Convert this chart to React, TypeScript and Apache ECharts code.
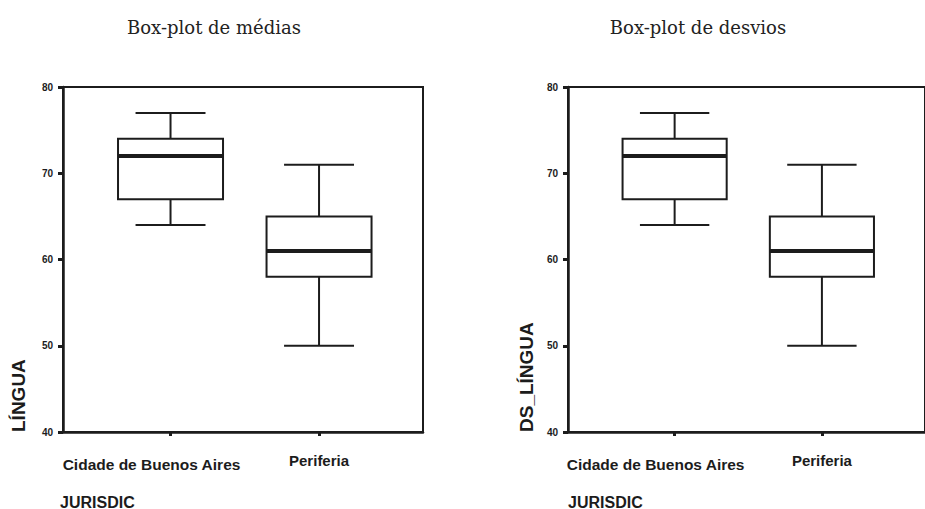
import React, { useEffect, useRef } from "react";
import * as echarts from "echarts";

const categories = ["Cidade de Buenos Aires", "Periferia"];
// [min, Q1, median, Q3, max]
const mediasBox = [
  [64, 67, 72, 74, 77],
  [50, 58, 61, 65, 71],
];
const desviosBox = [
  [64, 67, 72, 74, 77],
  [50, 58, 61, 65, 71],
];
const titles = ["Box-plot de médias", "Box-plot de desvios"];
const yNames = ["LÍNGUA", "DS_LÍNGUA"];
const xName = "JURISDIC";

const INK = "#1c1c1c";
const SANS = "'Liberation Sans', Arial, sans-serif";

function renderBox(params: any, api: any) {
  const x = api.value(0);
  const mn = api.value(1);
  const q1 = api.value(2);
  const md = api.value(3);
  const q3 = api.value(4);
  const mx = api.value(5);
  const boxW = api.size([0.707, 0])[0];
  const capW = api.size([0.471, 0])[0];
  const pMin = api.coord([x, mn]);
  const pQ1 = api.coord([x, q1]);
  const pMd = api.coord([x, md]);
  const pQ3 = api.coord([x, q3]);
  const pMax = api.coord([x, mx]);
  const cx = pMd[0];
  const lineStyle = { stroke: INK, lineWidth: 2, fill: null };
  return {
    type: "group",
    children: [
      { type: "line", shape: { x1: cx, y1: pMax[1], x2: cx, y2: pQ3[1] }, style: lineStyle },
      { type: "line", shape: { x1: cx, y1: pQ1[1], x2: cx, y2: pMin[1] }, style: lineStyle },
      { type: "line", shape: { x1: cx - capW / 2, y1: pMax[1], x2: cx + capW / 2, y2: pMax[1] }, style: lineStyle },
      { type: "line", shape: { x1: cx - capW / 2, y1: pMin[1], x2: cx + capW / 2, y2: pMin[1] }, style: lineStyle },
      {
        type: "rect",
        shape: { x: cx - boxW / 2, y: pQ3[1], width: boxW, height: pQ1[1] - pQ3[1] },
        style: { stroke: INK, lineWidth: 2, fill: "#fff" },
      },
      { type: "line", shape: { x1: cx - boxW / 2, y1: pMd[1], x2: cx + boxW / 2, y2: pMd[1] }, style: { stroke: INK, lineWidth: 4 } },
    ],
  };
}

export default function App() {
  const ref = useRef<HTMLDivElement>(null);
  useEffect(() => {
    if (!ref.current) return;
    const chart = echarts.init(ref.current, undefined, { renderer: "svg" });
    const lefts = [63, 568];
    const grids = lefts.map((l) => ({
      left: l,
      top: 87,
      width: 360,
      height: 345,
      show: true,
      borderColor: INK,
      borderWidth: 2,
      backgroundColor: "transparent",
    }));
    const xAxes = lefts.map((_, i) => ({
      type: "value",
      gridIndex: i,
      min: -0.724,
      max: 1.7,
      splitLine: { show: false },
      axisLine: { show: true, onZero: false, lineStyle: { color: INK, width: 2.5 } },
      axisTick: { show: true, length: 4, customValues: [0, 1], lineStyle: { color: INK, width: 3 } },
      axisLabel: {
        show: true,
        customValues: [0, 1],
        margin: 21,
        formatter: (v: number) => (v === 0 ? "{a|" + categories[0] + "}" : "{b|" + categories[1] + "}"),
        rich: {
          a: { fontFamily: SANS, fontWeight: "bold", fontSize: 15.5, color: INK, padding: [3, 38, 0, 0] },
          b: { fontFamily: SANS, fontWeight: "bold", fontSize: 15, color: INK },
        },
      },
    }));
    const yAxes = lefts.map((_, i) => ({
      type: "value",
      gridIndex: i,
      min: 40,
      max: 80,
      interval: 10,
      splitLine: { show: false },
      axisLine: { show: true, onZero: false, lineStyle: { color: INK, width: 2.5 } },
      axisTick: { show: true, length: 5, lineStyle: { color: INK, width: 3 } },
      axisLabel: { margin: 10, fontFamily: SANS, fontWeight: "bold", fontSize: 10, color: INK },
    }));
    const datasets = [mediasBox, desviosBox];
    const series = datasets.map((d, i) => ({
      type: "custom",
      xAxisIndex: i,
      yAxisIndex: i,
      renderItem: renderBox,
      encode: { x: 0, y: [1, 2, 3, 4, 5] },
      data: d.map((row, k) => [k, ...row]),
      clip: false,
    }));
    const graphic: any[] = [];
    titles.forEach((t, i) => {
      graphic.push({
        type: "text",
        x: [214, 698][i],
        y: 27,
        style: {
          text: t,
          fontFamily: "'DejaVu Serif', 'Liberation Serif', serif",
          fontSize: 18,
          fill: "#222",
          align: "center",
          verticalAlign: "middle",
        },
      });
    });
    yNames.forEach((t, i) => {
      graphic.push({
        type: "text",
        x: [18, 526][i],
        y: 432,
        rotation: Math.PI / 2,
        style: {
          text: t,
          fontFamily: SANS,
          fontWeight: "bold",
          fontSize: 19,
          fill: INK,
          align: "left",
          verticalAlign: "middle",
        },
      });
    });
    [60, 568].forEach((x) => {
      graphic.push({
        type: "text",
        x,
        y: 502,
        style: {
          text: xName,
          fontFamily: SANS,
          fontWeight: "bold",
          fontSize: 16,
          fill: INK,
          align: "left",
          verticalAlign: "middle",
        },
      });
    });
    chart.setOption({
      animation: false,
      backgroundColor: "#fff",
      grid: grids,
      xAxis: xAxes,
      yAxis: yAxes,
      series,
      graphic,
    });
    return () => chart.dispose();
  }, []);
  return (
    <div
      ref={ref}
      style={{ position: "fixed", left: 0, top: 0, width: 925, height: 509 }}
    />
  );
}
